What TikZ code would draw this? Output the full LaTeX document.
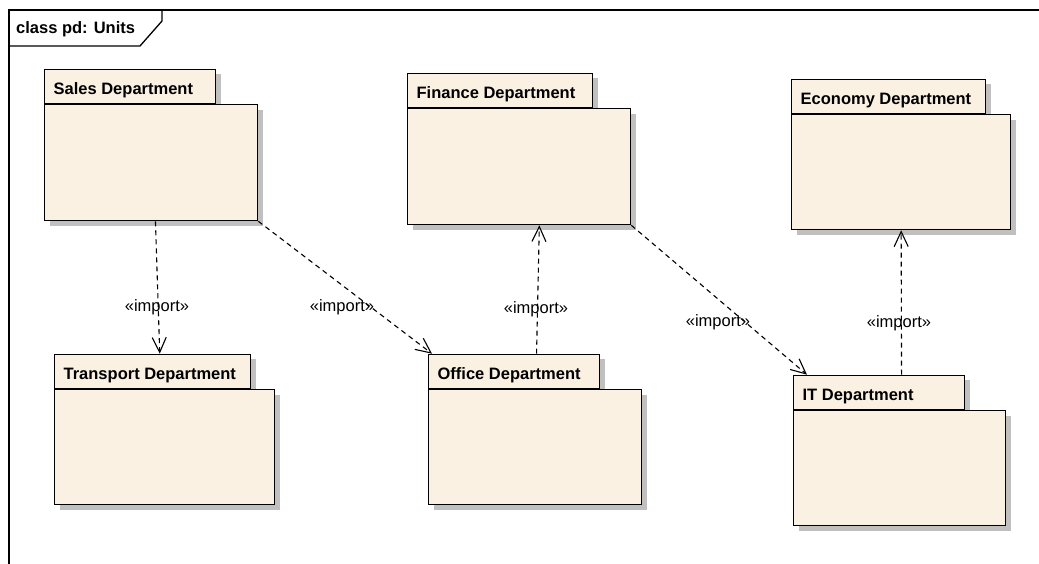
\documentclass[tikz,border=0pt]{standalone}
\usepackage{fontspec}
\setmainfont{Liberation Sans}
\usetikzlibrary{arrows.meta,shadows,calc}
\definecolor{pkgfill}{RGB}{251,241,227}
\definecolor{pkgshadow}{RGB}{192,192,192}
\tikzset{
  every node/.style={font=\fontsize{16.5}{19}\selectfont},
  pkgtab/.style={draw=black, line width=1.3pt, fill=pkgfill, anchor=south west,
    minimum height=34pt, inner xsep=9pt, inner ysep=0pt,
    text height=25pt, text depth=9pt,
    font=\fontsize{16.5}{19}\selectfont\bfseries,
    general shadow={fill=pkgshadow, shadow xshift=5pt, shadow yshift=-5pt}},
  pkgbody/.style={draw=black, line width=1.3pt, fill=pkgfill, anchor=north west,
    inner sep=0pt,
    general shadow={fill=pkgshadow, shadow xshift=5pt, shadow yshift=-5pt}},
  importdep/.style={draw=black, line width=1.1pt, dash pattern=on 5pt off 4pt,
    -{Straight Barb[length=15pt,width=14pt,line width=1.1pt]}},
  deplabel/.style={inner sep=0pt, font=\fontsize{16.5}{19}\selectfont}
}
% package name, left aligned inside a tab of the given width
\newcommand{\pkgtabtext}[2]{\parbox[b]{\dimexpr#1pt-18pt\relax}{#2}}
\begin{document}
\begin{tikzpicture}[x=1pt,y=-1pt]
\useasboundingbox (0,0) rectangle (1039,564);
\fill[white] (0,0) rectangle (1039,564);

% diagram frame and its name tab
\draw[line width=1.5pt] (1040,10) -- (9,10) -- (9,565);
\draw[line width=1.3pt] (9,46) -- (140,46) -- (162,21) -- (162,10);
\node[anchor=base west, inner sep=0pt, font=\fontsize{16.5}{19}\selectfont\bfseries] (frametitle) at (16,34) {class pd: Units};

% packages: tab first, then body
\node[pkgtab, minimum width=171pt] (salesT) at (44,104) {\pkgtabtext{171}{Sales Department}};
\node[pkgbody, minimum width=213pt, minimum height=116pt] (salesB) at (44,104) {};

\node[pkgtab, minimum width=185pt] (financeT) at (407,108) {\pkgtabtext{185}{Finance Department}};
\node[pkgbody, minimum width=223pt, minimum height=116pt] (financeB) at (407,108) {};

\node[pkgtab, minimum width=194pt] (economyT) at (791,114) {\pkgtabtext{194}{Economy Department}};
\node[pkgbody, minimum width=219pt, minimum height=115pt] (economyB) at (791,114) {};

\node[pkgtab, minimum width=196pt] (transportT) at (54,389) {\pkgtabtext{196}{Transport Department}};
\node[pkgbody, minimum width=220pt, minimum height=115pt] (transportB) at (54,389) {};

\node[pkgtab, minimum width=171pt] (officeT) at (428,389) {\pkgtabtext{171}{Office Department}};
\node[pkgbody, minimum width=213pt, minimum height=115pt] (officeB) at (428,389) {};

\node[pkgtab, minimum width=171pt] (itT) at (793,410) {\pkgtabtext{171}{IT Department}};
\node[pkgbody, minimum width=212pt, minimum height=115pt] (itB) at (793,410) {};

% import dependencies
\draw[importdep] ($(salesB.south west)!0.52!(salesB.south east)$) -- ($(transportT.north west)!0.536!(transportT.north east)$);
\draw[importdep] (salesB.south east) -- ($(officeT.north west)+(4,0)$);
\draw[importdep] ($(officeT.north west)!0.63!(officeT.north east)$) -- ($(financeB.south west)!0.59!(financeB.south east)$);
\draw[importdep] (financeB.south east) -- ($(itT.north west)+(14,0)$);
\draw[importdep] ($(itT.north west)!0.63!(itT.north east)$) -- ($(economyB.south west)!0.50!(economyB.south east)$);

\node[deplabel] (lbl1) at (157,307) {«import»};
\node[deplabel] (lbl2) at (342,307) {«import»};
\node[deplabel] (lbl3) at (536,309) {«import»};
\node[deplabel] (lbl4) at (718,322) {«import»};
\node[deplabel] (lbl5) at (899,323) {«import»};
\end{tikzpicture}
\end{document}
